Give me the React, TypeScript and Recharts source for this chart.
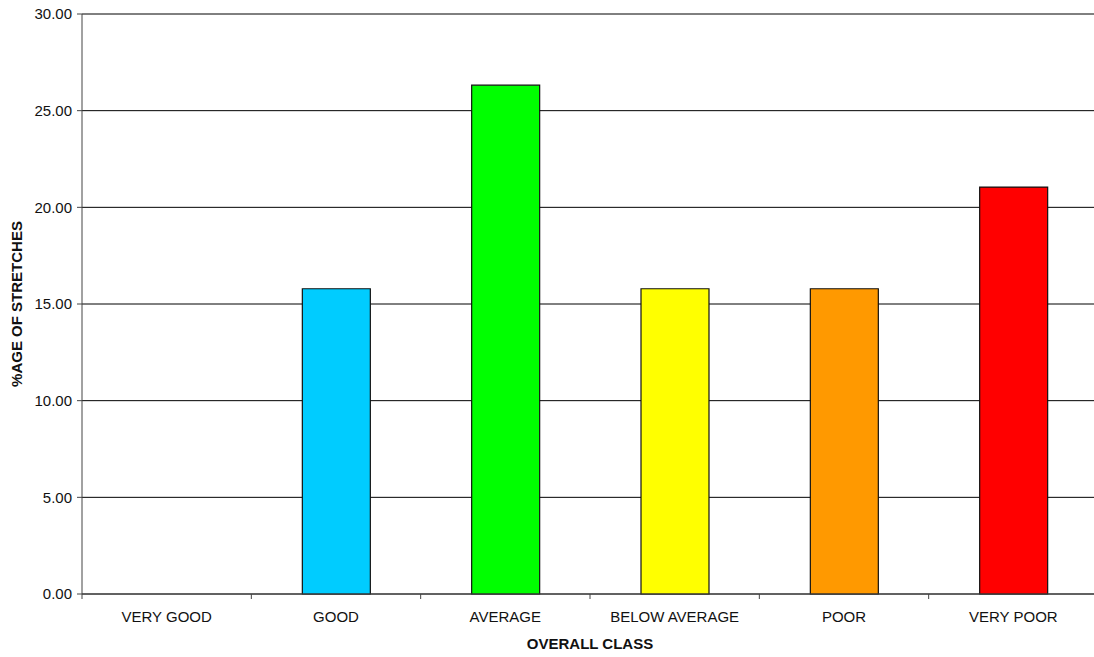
import React from "react";
import {
  BarChart,
  Bar,
  XAxis,
  YAxis,
  CartesianGrid,
  Cell,
} from "recharts";

// overall class distribution of surveyed stretches
const classes = ["VERY GOOD", "GOOD", "AVERAGE", "BELOW AVERAGE", "POOR", "VERY POOR"];
const percentages = [0, 15.79, 26.32, 15.79, 15.79, 21.05];
const barColors = ["#00ccff", "#00ccff", "#00ff00", "#ffff00", "#ff9900", "#ff0000"];
const yTicks = [0, 5, 10, 15, 20, 25, 30];

const chartData = classes.map((name, i) => ({
  name,
  value: percentages[i],
  color: barColors[i],
}));

const WIDTH = 1098;
const HEIGHT = 657;
const LEFT = 82;
const PLOT_W = WIDTH - LEFT;
const HALF_BAND = PLOT_W / classes.length / 2;
const FONT = "'Liberation Sans', Arial, sans-serif";

// category label plus a tick mark on the boundary to its left
const ClassTick = (props: any) => {
  const { x, y, payload } = props;
  return (
    <g>
      <line x1={x - HALF_BAND} x2={x - HALF_BAND} y1={594} y2={599} stroke="#444" />
      <text
        x={x}
        y={y}
        dy={20}
        textAnchor="middle"
        fontFamily={FONT}
        fontSize={15}
        fill="#111"
      >
        {payload.value}
      </text>
    </g>
  );
};

export default function App() {
  return (
    <div
      style={{
        position: "absolute",
        left: 0,
        top: 0,
        width: 1094,
        height: 657,
        overflow: "hidden",
        background: "#fff",
      }}
    >
      <BarChart
        width={WIDTH}
        height={HEIGHT}
        data={chartData}
        margin={{ top: 14, right: 0, bottom: 0, left: 0 }}
      >
        <CartesianGrid vertical={false} stroke="#000" strokeWidth={1} />
        <XAxis
          dataKey="name"
          height={63}
          axisLine={{ stroke: "#444" }}
          tickLine={false}
          tick={<ClassTick />}
          interval={0}
          label={{
            content: () => (
              <text
                x={LEFT + PLOT_W / 2}
                y={649}
                textAnchor="middle"
                fontFamily={FONT}
                fontSize={15}
                fontWeight="bold"
                fill="#111"
              >
                OVERALL CLASS
              </text>
            ),
          }}
        />
        <YAxis
          width={LEFT}
          domain={[0, 30]}
          ticks={yTicks}
          interval={0}
          tickFormatter={(v: number) => v.toFixed(2)}
          axisLine={{ stroke: "#444" }}
          tickLine={{ stroke: "#444" }}
          tickSize={5}
          tickMargin={5}
          tick={{ fontFamily: FONT, fontSize: 15, fill: "#111" }}
          label={{
            content: () => (
              <text
                x={22}
                y={304}
                transform="rotate(-90 22 304)"
                textAnchor="middle"
                fontFamily={FONT}
                fontSize={15}
                fontWeight="bold"
                fill="#111"
              >
                %AGE OF STRETCHES
              </text>
            ),
          }}
        />
        <Bar
          dataKey="value"
          barSize={68}
          stroke="#111"
          strokeWidth={1.2}
          isAnimationActive={false}
        >
          {chartData.map((d, i) => (
            <Cell key={`cell-${i}`} fill={d.color} />
          ))}
        </Bar>
      </BarChart>
    </div>
  );
}
